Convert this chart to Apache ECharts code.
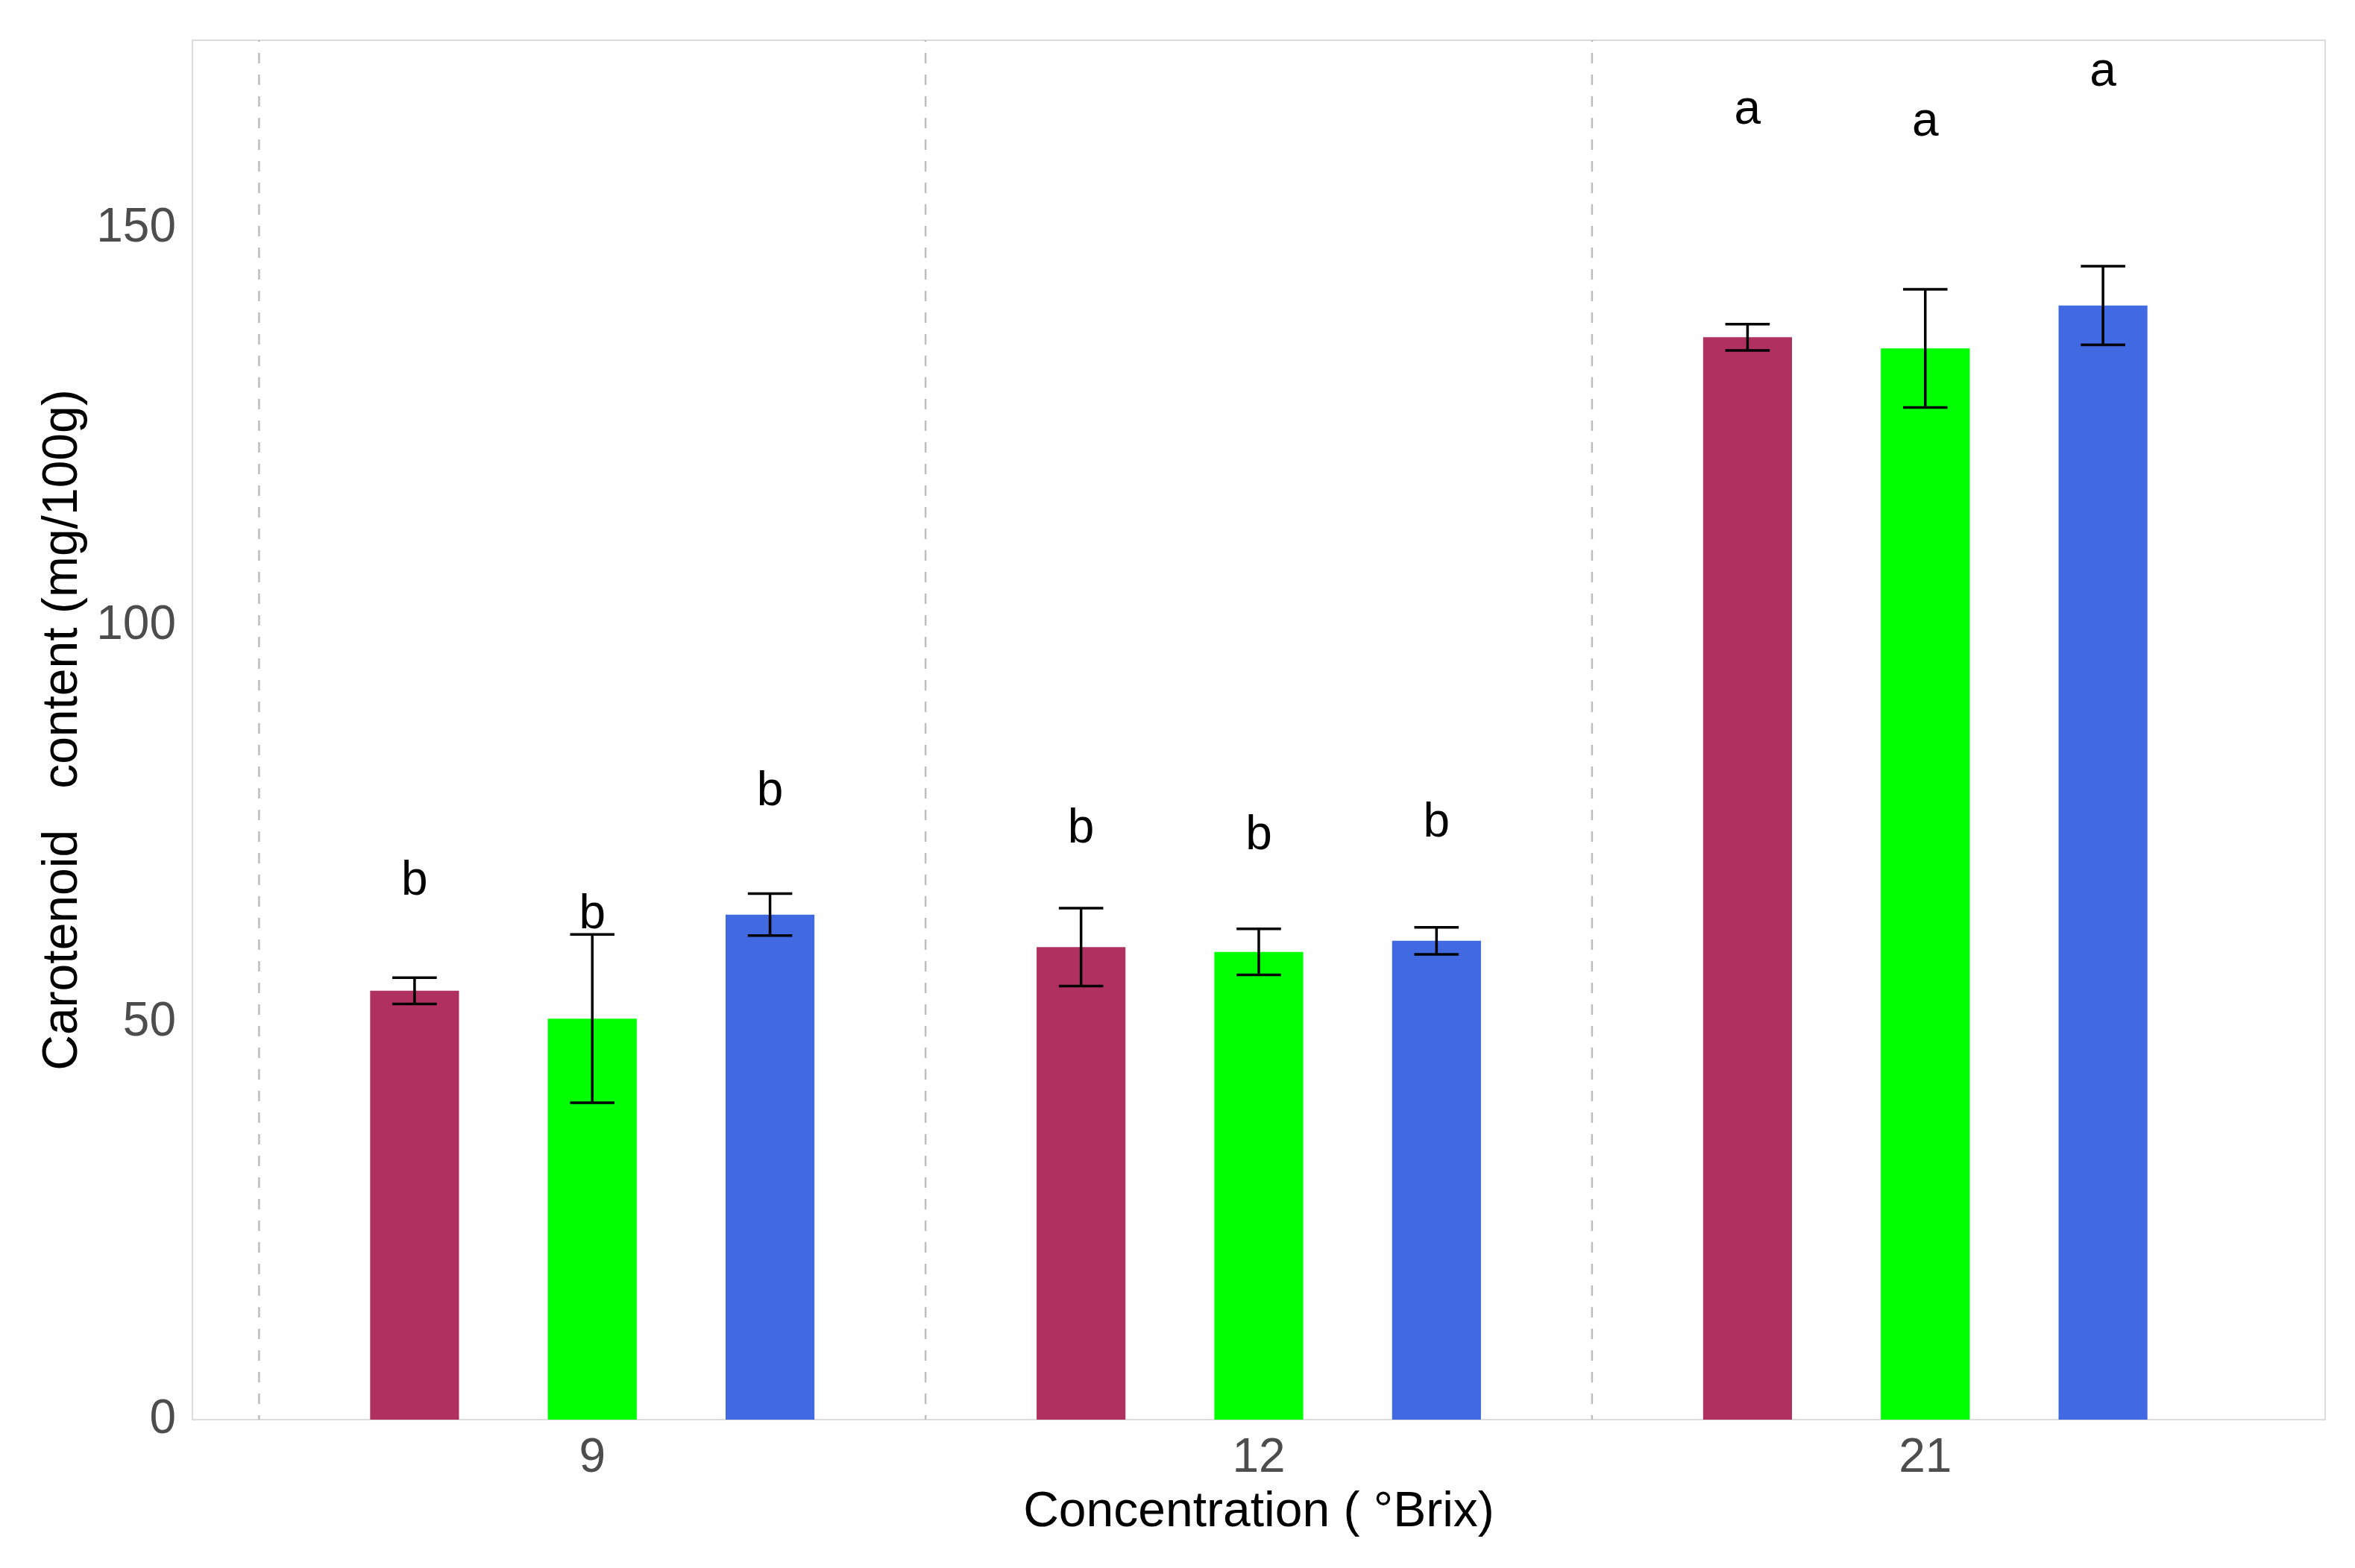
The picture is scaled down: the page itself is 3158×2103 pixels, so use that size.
<!DOCTYPE html>
<html>
<head>
<meta charset="utf-8">
<script src="https://cdn.jsdelivr.net/npm/echarts@6/dist/echarts.min.js"></script>
<style>
  html, body { margin: 0; padding: 0; background: #ffffff; }
  #chart { width: 3158px; height: 2103px; }
</style>
</head>
<body>
<div id="chart"></div>
<script>
// ---- Data ----
const categories = ['9', '12', '21'];
const yTicks = [0, 50, 100, 150];

const redMean   = [54.0, 59.5, 136.3];
const greenMean = [50.5, 58.9, 134.9];
const blueMean  = [63.6, 60.3, 140.3];

const redSd   = [1.65, 4.9, 1.65];
const greenSd = [10.6, 2.9, 7.45];
const blueSd  = [2.65, 1.7, 4.95];

const redLetters   = ['b', 'b', 'a'];
const greenLetters = ['b', 'b', 'a'];
const blueLetters  = ['b', 'b', 'a'];

const redLetterY   = [67.8, 74.3, 164.8];
const greenLetterY = [63.5, 73.5, 163.3];
const blueLetterY  = [79.0, 75.1, 169.6];

const groupBoundaries = [-0.5, 0.5, 1.5];

// ---- Layout / style constants ----
const FONT = "'Liberation Sans', Arial, sans-serif";
const Y_MAX = 173.7;
const DODGE = 0.8 / 3;      // dodge spacing in category units
const BAR_W = 0.4 / 3;      // bar width in category units
const CAP_W = BAR_W / 2;    // error bar cap width

const treatments = [
  { color: '#B03060', mean: redMean,   sd: redSd,   letters: redLetters,   ly: redLetterY,   offset: -DODGE },
  { color: '#00FF00', mean: greenMean, sd: greenSd, letters: greenLetters, ly: greenLetterY, offset: 0 },
  { color: '#4169E1', mean: blueMean,  sd: blueSd,  letters: blueLetters,  ly: blueLetterY,  offset: DODGE }
];

function makeSeries(t) {
  const data = categories.map((c, i) => [i, t.mean[i], t.sd[i], t.ly[i], t.letters[i]]);
  return {
    type: 'custom',
    clip: false,
    data: data,
    encode: { x: 0, y: 1 },
    renderItem: function (params, api) {
      const x = api.value(0) + t.offset;
      const m = api.value(1);
      const s = api.value(2);
      const ly = api.value(3);
      const letter = data[params.dataIndex][4];
      const tl = api.coord([x - BAR_W / 2, m]);
      const br = api.coord([x + BAR_W / 2, 0]);
      const top = api.coord([x, m + s]);
      const bot = api.coord([x, m - s]);
      const capL = api.coord([x - CAP_W / 2, 0])[0];
      const capR = api.coord([x + CAP_W / 2, 0])[0];
      const lp = api.coord([x, ly]);
      const lineStyle = { stroke: '#000000', lineWidth: 3.5 };
      return {
        type: 'group',
        children: [
          { type: 'rect', shape: { x: tl[0], y: tl[1], width: br[0] - tl[0], height: br[1] - tl[1] },
            style: { fill: t.color } },
          { type: 'line', shape: { x1: top[0], y1: top[1], x2: bot[0], y2: bot[1] }, style: lineStyle },
          { type: 'line', shape: { x1: capL, y1: top[1], x2: capR, y2: top[1] }, style: lineStyle },
          { type: 'line', shape: { x1: capL, y1: bot[1], x2: capR, y2: bot[1] }, style: lineStyle },
          { type: 'text', x: lp[0], y: lp[1],
            style: { text: letter, fill: '#000000', font: '64px ' + FONT, align: 'center', verticalAlign: 'middle' } }
        ]
      };
    },
    z: 3
  };
}

const vlineSeries = {
  type: 'custom',
  data: groupBoundaries.map(b => [b]),
  encode: { x: 0 },
  renderItem: function (params, api) {
    const b = api.value(0);
    const p0 = api.coord([b, 0]);
    const p1 = api.coord([b, Y_MAX]);
    return {
      type: 'line',
      shape: { x1: p0[0], y1: p0[1], x2: p1[0], y2: p1[1] },
      style: { stroke: '#BDBDBD', lineWidth: 2.5, lineDash: [14, 15], lineDashOffset: 8 }
    };
  },
  z: 1
};

const chart = echarts.init(document.getElementById('chart'), null, { renderer: 'canvas' });
chart.setOption({
  backgroundColor: '#ffffff',
  animation: false,
  grid: {
    show: true,
    left: 258, right: 40, top: 54, bottom: 199,
    borderColor: '#DCDCDC', borderWidth: 2,
    backgroundColor: '#ffffff'
  },
  xAxis: {
    type: 'value',
    min: -0.6, max: 2.6,
    axisLine: { show: false },
    axisTick: { show: false },
    splitLine: { show: false },
    axisLabel: {
      customValues: [0, 1, 2],
      formatter: function (v) { return categories[Math.round(v)]; },
      color: '#4D4D4D', fontSize: 64, fontFamily: FONT, margin: 20
    },
    name: 'Concentration ( °Brix)',
    nameLocation: 'middle',
    nameGap: 92,
    nameTextStyle: { color: '#000000', fontSize: 66, fontFamily: FONT }
  },
  yAxis: {
    type: 'value',
    min: 0, max: Y_MAX,
    axisLine: { show: false },
    axisTick: { show: false },
    splitLine: { show: false },
    axisLabel: {
      customValues: yTicks,
      formatter: function (v) { return String(v); },
      color: '#4D4D4D', fontSize: 64, fontFamily: FONT, margin: 22
    },
    name: 'Carotenoid   content (mg/100g)',
    nameLocation: 'middle',
    nameGap: 140,
    nameTextStyle: { color: '#000000', fontSize: 66, fontFamily: FONT }
  },
  series: [vlineSeries].concat(treatments.map(makeSeries))
});
</script>
</body>
</html>
